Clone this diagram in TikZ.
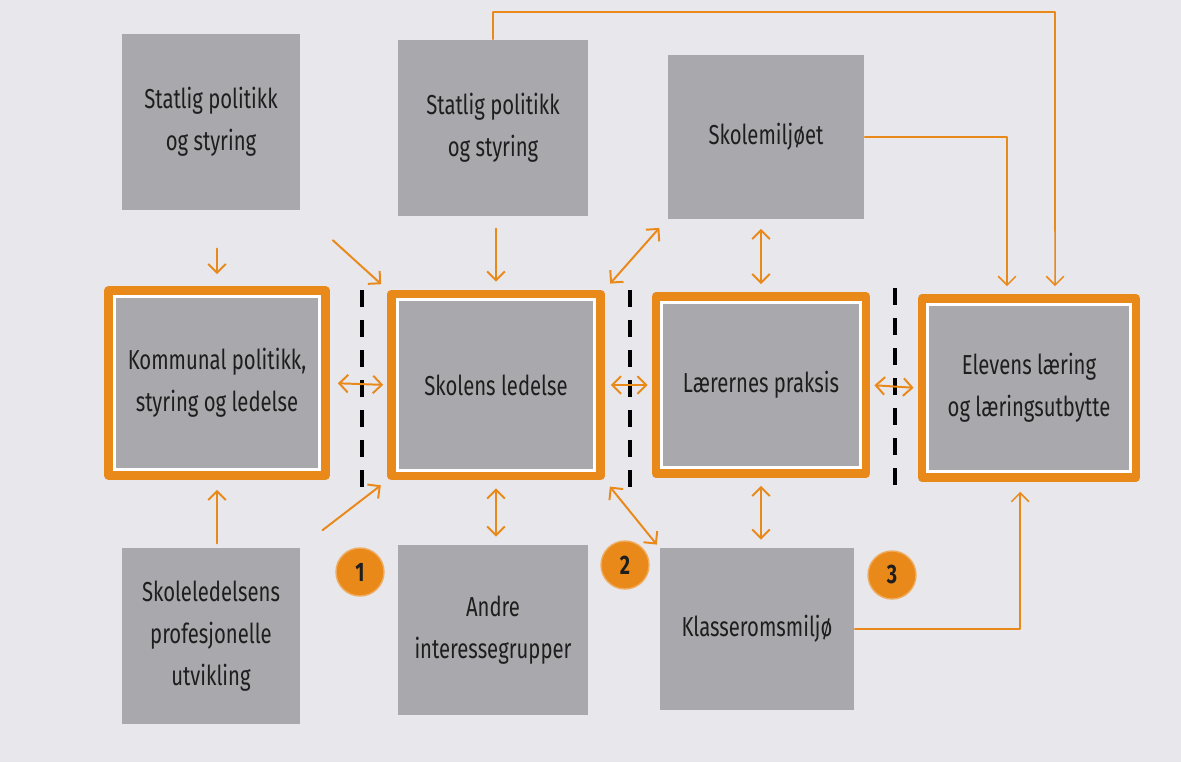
\documentclass[tikz,border=0pt]{standalone}
\usepackage{fontspec}
\setmainfont{Fira Sans}[FakeStretch=0.74]
\usetikzlibrary{arrows.meta}
\definecolor{paper}{HTML}{E8E7EC}
\definecolor{boxgray}{HTML}{A9A8AC}
\definecolor{frameorange}{HTML}{E8891A}
\definecolor{inkgray}{HTML}{1E1E1E}
\begin{document}
\begin{tikzpicture}[x=0.025cm,y=-0.025cm,line cap=round,line join=round,
    font=\fontsize{19.5}{30}\selectfont,text=inkgray,
    factor/.style={fill=boxgray,align=center,inner sep=0pt},
    stage/.style={fill=white,draw=frameorange,line width=0.22cm,align=center,inner sep=0pt,
      path picture={\fill[boxgray] ([shift={(0.175cm,0.175cm)}]path picture bounding box.south west)
        rectangle ([shift={(-0.175cm,-0.175cm)}]path picture bounding box.north east);}},
    badge/.style={circle,fill=frameorange,draw=frameorange!70!white,line width=1pt,
      minimum size=1.2cm,inner sep=0pt,font=\fontsize{19}{19}\selectfont\bfseries},
    flow/.style={draw=frameorange,line width=1.4pt,-{Straight Barb[length=2.2mm,width=4.4mm]}},
    twoway/.style={flow,{Straight Barb[length=2.2mm,width=4.4mm]}-{Straight Barb[length=2.2mm,width=4.4mm]}},
    divider/.style={draw=black,line width=0.09cm,line cap=butt,dash pattern=on 0.42cm off 0.33cm}]
  \fill[paper] (0,0) rectangle (1181,762);
  \useasboundingbox (0,0) rectangle (1181,762);

  % top row
  \node[factor,minimum width=4.45cm,minimum height=4.42cm] (statA) at (211,122) {Statlig politikk\\og styring};
  \node[factor,minimum width=4.75cm,minimum height=4.42cm] (statB) at (493,128) {Statlig politikk\\og styring};
  \node[factor,minimum width=4.92cm,minimum height=4.08cm] (miljo) at (766,137) {Skolemiljøet};

  % middle row
  \node[stage,minimum width=5.42cm,minimum height=4.62cm] (kommune) at (217,383) {Kommunal politikk,\\styring og ledelse};
  \node[stage,minimum width=5.22cm,minimum height=4.55cm] (ledelse) at (496,385) {Skolens ledelse};
  \node[stage,minimum width=5.25cm,minimum height=4.42cm] (praksis) at (761,385) {Lærernes praksis};
  \node[stage,minimum width=5.35cm,minimum height=4.47cm] (elev) at (1029,388) {Elevens læring\\og læringsutbytte};

  % bottom row
  \node[factor,minimum width=4.45cm,minimum height=4.42cm] (utvikling) at (211,636) {Skoleledelsens\\profesjonelle\\utvikling};
  \node[factor,minimum width=4.75cm,minimum height=4.25cm] (andre) at (493,630) {Andre\\interessegrupper};
  \node[factor,minimum width=4.87cm,minimum height=4.05cm] (klasse) at (757,629) {Klasseromsmiljø};

  \node[badge] (n1) at (360,572) {1};
  \node[badge] (n2) at (625,565) {2};
  \node[badge] (n3) at (892,575) {3};

  \draw[divider] (362,290) -- (362,492);
  \draw[divider] (630,290) -- (630,492);
  \draw[divider] (895,288) -- (895,492);

  % arrows
  \draw[flow,shorten <=0.95cm,shorten >=0.3cm] (statA.south -| kommune.north) -- (kommune.north);
  \draw[flow,shorten <=1.1cm,shorten >=0.2cm] (statA.south east) -- (ledelse.north west);
  \draw[flow,shorten <=0.3cm,shorten >=0.2cm] (statB.south -| ledelse.north) -- (ledelse.north);
  \draw[twoway,shorten <=0.3cm,shorten >=0.2cm] (miljo.south west) -- (ledelse.north east);
  \draw[twoway,shorten <=0.25cm,shorten >=0.2cm] (miljo.south -| praksis.north) -- (praksis.north);
  \draw[flow,line width=1.1pt,shorten >=0.2cm] (miljo.east) -| ([xshift=-0.55cm]elev.north);
  \draw[flow,line width=1.1pt,shorten >=0.2cm] (statB.north) |- (1055,12) -- ([xshift=0.65cm]elev.north);

  \draw[twoway,shorten <=0.2cm,shorten >=0.1cm] (kommune.east) -- (ledelse.west);
  \draw[twoway,shorten <=0.15cm,shorten >=0.1cm] (ledelse.east) -- (praksis.west);
  \draw[twoway,shorten <=0.1cm,shorten >=0.1cm] (praksis.east) -- (elev.west);

  \draw[flow,shorten <=0.1cm,shorten >=0.25cm] (utvikling.north -| kommune.south) -- (kommune.south);
  \draw[flow,shorten <=0.7cm,shorten >=0.2cm] (utvikling.north east) -- (ledelse.south west);
  \draw[twoway,shorten <=0.2cm,shorten >=0.2cm] (andre.north -| ledelse.south) -- (ledelse.south);
  \draw[twoway,shorten <=0.2cm,shorten >=0.1cm] (ledelse.south east) -- (klasse.north west);
  \draw[twoway,shorten <=0.2cm,shorten >=0.2cm] (klasse.north -| praksis.south) -- (praksis.south);
  \draw[flow,line width=1.1pt,shorten >=0.25cm] (klasse.east) -| ([xshift=-0.22cm]elev.south);
\end{tikzpicture}
\end{document}
